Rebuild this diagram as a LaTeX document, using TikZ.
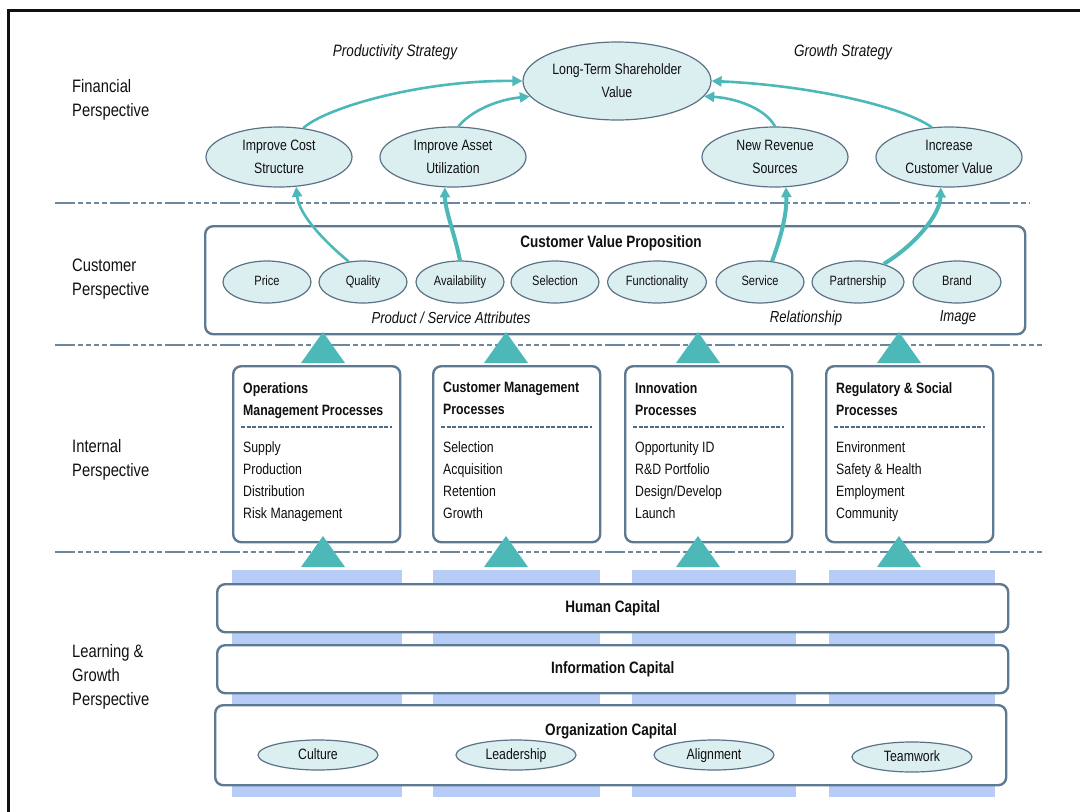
\documentclass[tikz,border=0pt]{standalone}
\usepackage{fontspec}
\setmainfont{Liberation Sans}[FakeStretch=0.82]
\usepackage{tikz}
\usetikzlibrary{calc,shapes.geometric,arrows.meta}

\definecolor{bsteal}{HTML}{4DB8B8}
\definecolor{ovalfill}{HTML}{DBEEF0}
\definecolor{ovalline}{HTML}{5C7387}
\definecolor{panelline}{HTML}{5E7992}
\definecolor{sepline}{HTML}{6C87A0}
\definecolor{ruleline}{HTML}{4F6A85}
\definecolor{colblue}{HTML}{B8CCF8}
\definecolor{inkblack}{HTML}{101010}

\newcommand\fsz[2]{\fontsize{#1}{#2}\selectfont}

\tikzset{
  oval/.style={ellipse, draw=ovalline, fill=ovalfill, line width=1.2pt, inner sep=0pt, align=center, text=inkblack},
  finoval/.style={oval, minimum width=146, minimum height=60, font=\fsz{15}{23}},
  attroval/.style={oval, minimum height=42, text height=10pt, text depth=3pt, font=\fsz{13.5}{16}},
  capoval/.style={oval, minimum width=120, minimum height=30, text height=11pt, text depth=3pt, font=\fsz{15}{18}},
  panel/.style={draw=panelline, fill=white, line width=2.4pt, rounded corners=8pt, anchor=north west, inner sep=0pt, text=inkblack},
  capital/.style={panel, minimum width=791, font=\bfseries\fsz{16.5}{20}},
  perspective/.style={anchor=north west, align=left, inner sep=0pt, text=inkblack, font=\fsz{18}{24}},
  heading/.style={inner sep=0pt, text=inkblack, font=\bfseries\fsz{16.5}{20}},
  caption/.style={inner sep=0pt, text=inkblack, font=\itshape\fsz{16}{20}},
  proctitle/.style={anchor=north west, align=left, inner sep=0pt, text=inkblack, font=\bfseries\fsz{15}{22}},
  procitems/.style={anchor=north west, align=left, inner sep=0pt, text=inkblack, font=\fsz{15}{22}},
  procrule/.style={draw=ruleline, line width=1.6pt, dash pattern=on 4pt off 1.5pt},
  sepdash/.style={draw=sepline, line width=1.4pt, dash pattern=on 20pt off 3pt on 5pt off 3pt on 5pt off 3pt on 5pt off 3pt on 5pt off 3pt},
  flow/.style={draw=bsteal, line width=2.6pt, -{Triangle[length=10pt,width=10pt]}},
  flowthick/.style={flow, line width=4pt}
}

% one box of the internal layer: name, left x, title, items
\newcommand\procbox[4]{%
  \node[panel, minimum width=167, minimum height=176] (#1) at (#2,365) {};
  \node[proctitle] (#1title) at ($(#1.north west)+(11,17)$) {#3};
  \draw[procrule] ($(#1.north west)+(9,62)$) -- ($(#1.north east)+(-9,62)$);
  \node[procitems] (#1items) at ($(#1.north west)+(11,76)$) {#4};
}

\begin{document}
\begin{tikzpicture}[x=1pt, y=-1pt]
  %%%%% START %%%%%
  \useasboundingbox (0,0) rectangle (1080,812);
  \draw[line width=3pt, inkblack] (8,812) -- (8,10) -- (1080,10);

  \draw[sepdash] (55,203) -- (1030,203);
  \draw[sepdash] (55,345) -- (1045,345);
  \draw[sepdash] (55,552) -- (1045,552);

  \node[perspective] (finlabel) at (72,79) {Financial\\Perspective};
  \node[perspective] (custlabel) at (72,259) {Customer\\Perspective};
  \node[perspective] (intlabel) at (72,439) {Internal\\Perspective};
  \node[perspective] (learnlabel) at (72,644) {Learning \&\\Growth\\Perspective};

  % financial layer
  \node[caption, font=\itshape\fsz{16.5}{20}] (prodcap) at (395,52) {Productivity Strategy};
  \node[caption, font=\itshape\fsz{16.5}{20}] (growcap) at (843,52) {Growth Strategy};
  \node[finoval, minimum width=188, minimum height=78] (ltsv) at (617,81) {Long-Term Shareholder\\Value};
  \node[finoval] (cost) at (279,157) {Improve Cost\\Structure};
  \node[finoval] (asset) at (453,157) {Improve Asset\\Utilization};
  \node[finoval] (revenue) at (775,157) {New Revenue\\Sources};
  \node[finoval] (custval) at (949,157) {Increase\\Customer Value};

  % customer layer
  \node[panel, minimum width=820, minimum height=108] (cvpbox) at (204,225) {};
  \node[heading] (cvptitle) at (611,243) {Customer Value Proposition};
  \foreach \x/\n/\t/\w in {267/price/Price/88, 363/quality/Quality/88, 460/avail/Availability/88,
      555/select/Selection/88, 657/func/Functionality/99, 760/service/Service/88,
      858/partner/Partnership/92, 957/brand/Brand/88}
    \node[attroval, minimum width=\w] (\n) at (\x,282) {\t};
  \node[caption] (attrcap) at (451,318) {Product / Service Attributes};
  \node[caption] (relcap) at (806,318) {Relationship};
  \node[caption] (imgcap) at (958,318) {Image};

  % internal layer
  \procbox{ops}{232}{Operations\\Management Processes}{Supply\\Production\\Distribution\\Risk Management}
  \procbox{cmp}{432}{Customer Management\\Processes}{Selection\\Acquisition\\Retention\\Growth}
  \procbox{inn}{624}{Innovation\\Processes}{Opportunity ID\\R\&D Portfolio\\Design/Develop\\Launch}
  \procbox{reg}{825}{Regulatory \& Social\\Processes}{Environment\\Safety \& Health\\Employment\\Community}

  % learning and growth layer
  \foreach \l/\r in {232/402, 433/600, 632/796, 829/995}
    \fill[colblue] (\l,570) rectangle (\r,797);
  \node[capital, minimum height=48] (human) at (216,583) {Human Capital};
  \node[capital, minimum height=48] (info) at (216,644) {Information Capital};
  \node[capital, minimum height=80] (org) at (214,704) {};
  \node[heading] (orgtitle) at (611,731) {Organization Capital};
  \node[capoval] (culture) at (318,755) {Culture};
  \node[capoval] (leader) at (516,755) {Leadership};
  \node[capoval] (align) at (714,755) {Alignment};
  \node[capoval] (team) at (912,757) {Teamwork};

  % links between objectives
  \draw[flow] (cost.50) .. controls (325,108) and (420,80) .. (ltsv.west);
  \draw[flow] (asset.80) .. controls (470,112) and (495,100) .. (ltsv.190);
  \draw[flow] (revenue.north) .. controls (765,108) and (735,98) .. (ltsv.350);
  \draw[flow] (custval.120) .. controls (900,105) and (805,85) .. (ltsv.east);
  \draw[flow] (quality.125) .. controls (325,242) and (299,215) .. (cost.-60);
  \draw[flowthick] (avail.north) .. controls (455,235) and (445,210) .. (asset.-105);
  \draw[flowthick] (service.60) .. controls (780,240) and (787,215) .. (revenue.-70);
  \draw[flowthick] (partner.35) .. controls (915,245) and (940,215) .. (custval.-105);

  \foreach \x in {323,506,698,899} {
    \fill[bsteal] (\x-22,363) -- (\x,332) -- (\x+22,363) -- cycle;
    \fill[bsteal] (\x-22,567) -- (\x,536) -- (\x+22,567) -- cycle;
  }
  %%%%% END %%%%%
\end{tikzpicture}
\end{document}
